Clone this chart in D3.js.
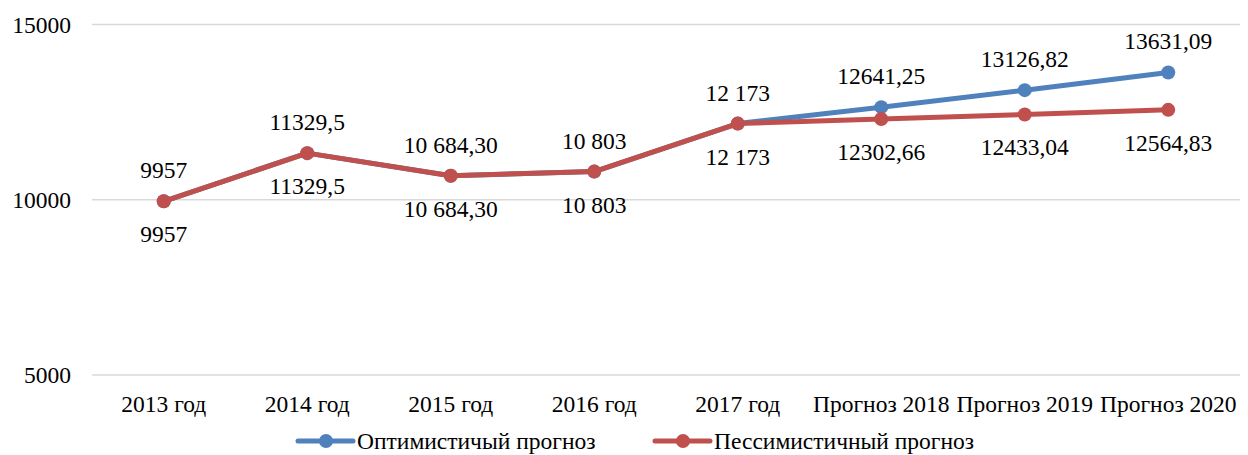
<!DOCTYPE html>
<html>
<head>
<meta charset="utf-8">
<script src="https://cdn.jsdelivr.net/npm/d3@7"></script>
<style>
  html, body { margin: 0; padding: 0; background: #fff; }
  svg { display: block; }
  text { font-family: "Liberation Serif", "Times New Roman", serif; fill: #000; }
</style>
</head>
<body>
<svg id="chart" width="1248" height="455"></svg>
<script>
// Categories along the x axis
const categories = ["2013 год", "2014 год", "2015 год", "2016 год", "2017 год",
                    "Прогноз 2018", "Прогноз 2019", "Прогноз 2020"];

// Series values
const optimistic  = [9957, 11329.5, 10684.30, 10803, 12173, 12641.25, 13126.82, 13631.09];
const pessimistic = [9957, 11329.5, 10684.30, 10803, 12173, 12302.66, 12433.04, 12564.83];

// Value labels as printed next to the points
const optimisticLabels  = ["9957", "11329,5", "10 684,30", "10 803", "12 173", "12641,25", "13126,82", "13631,09"];
const pessimisticLabels = ["9957", "11329,5", "10 684,30", "10 803", "12 173", "12302,66", "12433,04", "12564,83"];

// Y axis ticks
const yTicks = [5000, 10000, 15000];

const seriesNames = ["Оптимистичый прогноз", "Пессимистичный прогноз"];

const series = [
  { name: seriesNames[0], values: optimistic,  labels: optimisticLabels,  color: "#4F81BD", above: true },
  { name: seriesNames[1], values: pessimistic, labels: pessimisticLabels, color: "#C0504D", above: false }
];

const svg = d3.select("#chart");
const fontSize = 23.5;

const x = d3.scaleBand().domain(categories).range([92, 1240]);
const y = d3.scaleLinear().domain([5000, 15000]).range([375, 24.5]);
const cx = c => x(c) + x.bandwidth() / 2;

// Horizontal gridlines
svg.append("g")
  .selectAll("line")
  .data(yTicks)
  .join("line")
  .attr("x1", x.range()[0]).attr("x2", x.range()[1])
  .attr("y1", d => y(d)).attr("y2", d => y(d))
  .attr("stroke", "#d9d9d9").attr("stroke-width", 1.5);

// Y axis labels
const yAxis = d3.axisLeft(y).tickValues(yTicks).tickSize(0).tickPadding(0).tickFormat(d3.format("d"));
const yg = svg.append("g").attr("transform", "translate(71,0)").call(yAxis);
yg.select(".domain").remove();
yg.selectAll("text")
  .attr("font-size", fontSize)
  .attr("font-family", "Liberation Serif")
  .attr("dy", "0.33em")
  .attr("fill", "#000");

// X axis labels
const xAxis = d3.axisBottom(x).tickSize(0).tickPadding(0);
const xg = svg.append("g").attr("transform", "translate(0,396)").call(xAxis);
xg.select(".domain").remove();
xg.selectAll("text")
  .attr("font-size", fontSize)
  .attr("font-family", "Liberation Serif")
  .attr("dy", "0.68em")
  .attr("fill", "#000");

// Lines and markers
const line = d3.line().x((d, i) => cx(categories[i])).y(d => y(d));

series.forEach(s => {
  const g = svg.append("g");
  g.append("path")
    .datum(s.values)
    .attr("d", line)
    .attr("fill", "none")
    .attr("stroke", s.color)
    .attr("stroke-width", 5)
    .attr("stroke-linejoin", "round")
    .attr("stroke-linecap", "round");
  g.selectAll("circle")
    .data(s.values)
    .join("circle")
    .attr("cx", (d, i) => cx(categories[i]))
    .attr("cy", d => y(d))
    .attr("r", 7)
    .attr("fill", s.color);
});

// Value labels: optimistic above, pessimistic below
series.forEach(s => {
  svg.append("g")
    .selectAll("text")
    .data(s.values)
    .join("text")
    .attr("x", (d, i) => cx(categories[i]))
    .attr("y", d => s.above ? y(d) - 23 : y(d) + 41)
    .attr("text-anchor", "middle")
    .attr("font-size", fontSize)
    .text((d, i) => s.labels[i]);
});

// Legend
const legendItems = [
  { name: series[0].name, color: series[0].color, x0: 298 },
  { name: series[1].name, color: series[1].color, x0: 655 }
];
const legendY = 441;
const lg = svg.append("g");
legendItems.forEach(item => {
  lg.append("line")
    .attr("x1", item.x0).attr("x2", item.x0 + 55)
    .attr("y1", legendY).attr("y2", legendY)
    .attr("stroke", item.color).attr("stroke-width", 5)
    .attr("stroke-linecap", "round");
  lg.append("circle")
    .attr("cx", item.x0 + 28).attr("cy", legendY).attr("r", 7)
    .attr("fill", item.color);
  lg.append("text")
    .attr("x", item.x0 + 59).attr("y", 449)
    .attr("font-size", fontSize)
    .text(item.name);
});
</script>
</body>
</html>
